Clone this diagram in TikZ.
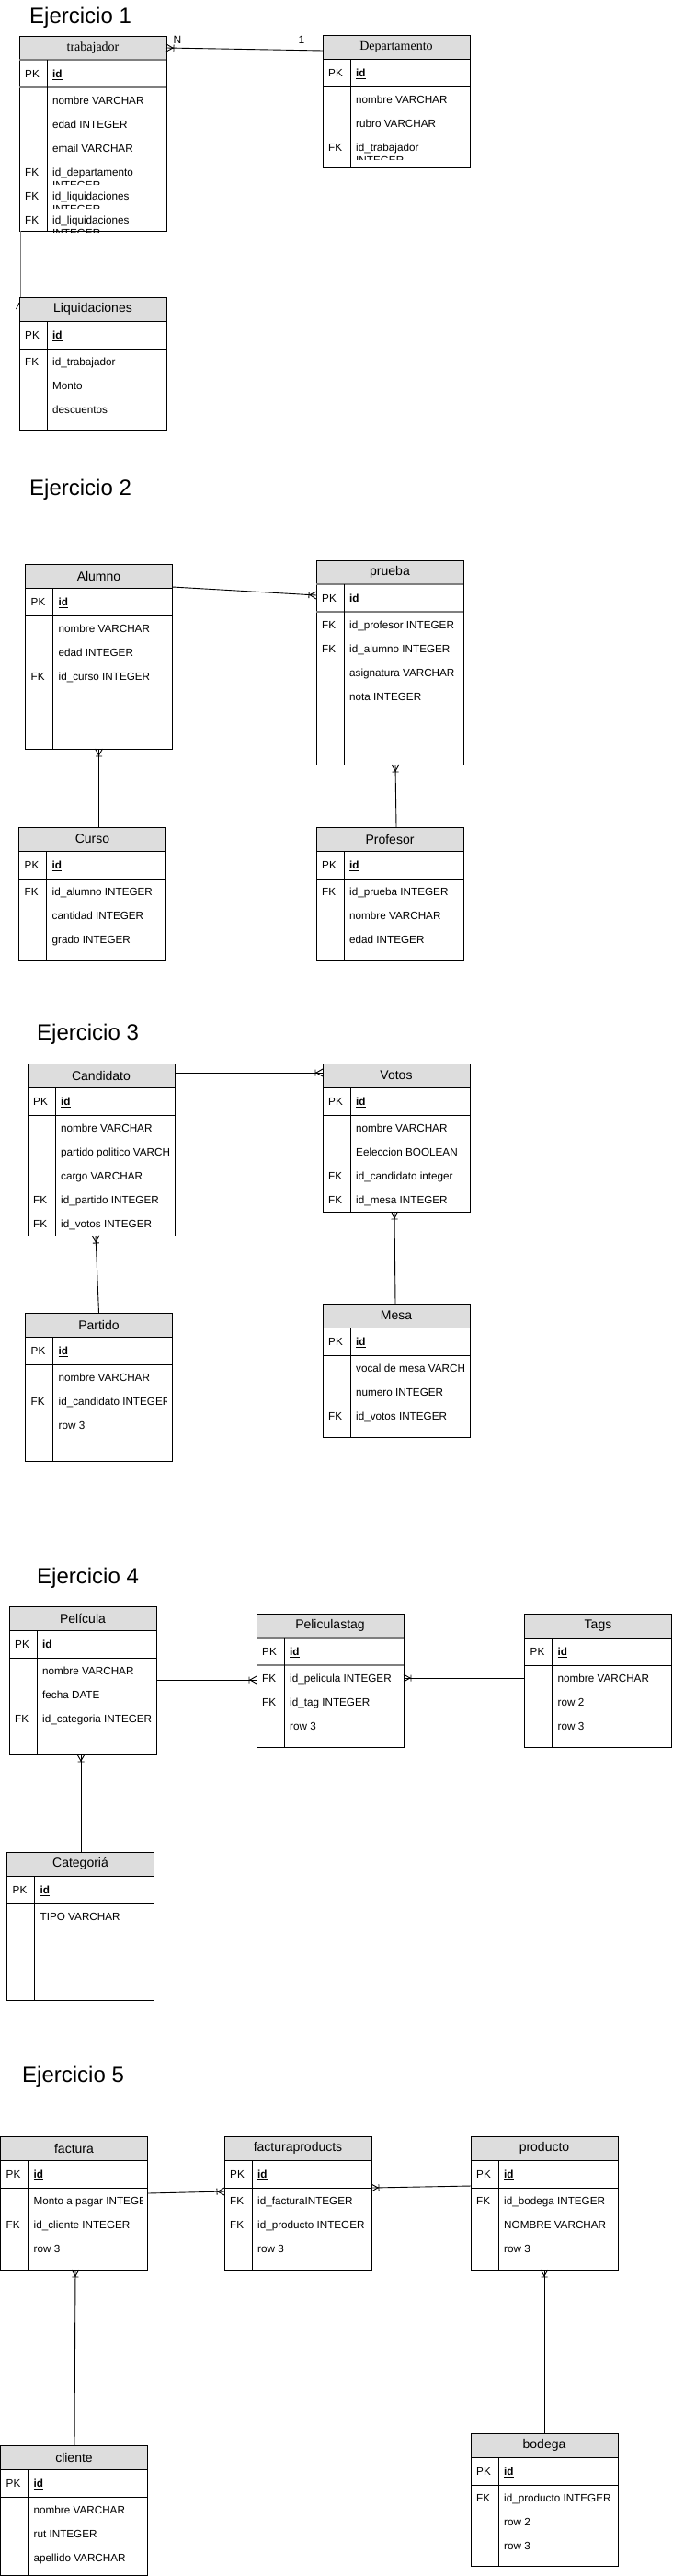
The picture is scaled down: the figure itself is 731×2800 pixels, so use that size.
\documentclass[tikz,border=0pt]{standalone}
\usepackage{fontspec}
\setmainfont{Liberation Sans}
\newfontfamily\serifhdr{Liberation Serif}
\usetikzlibrary{calc}
\definecolor{hdrgray}{HTML}{DDDDDD}
\definecolor{sepgray}{HTML}{7F7F7F}

\pgfdeclarearrow{
  name = Crow,
  setup code = {
    \pgfarrowssettipend{0pt}
    \pgfarrowssetlineend{0pt}
    \pgfarrowssetbackend{-8pt}
    \pgfarrowssetvisualbackend{-8pt}
    \pgfarrowshullpoint{0pt}{4pt}
    \pgfarrowshullpoint{0pt}{-4pt}
    \pgfarrowshullpoint{-8pt}{4pt}
    \pgfarrowshullpoint{-8pt}{-4pt}
  },
  drawing code = {
    \pgfsetdash{}{0pt}
    \pgfpathmoveto{\pgfqpoint{0pt}{4pt}}
    \pgfpathlineto{\pgfqpoint{-7pt}{0pt}}
    \pgfpathlineto{\pgfqpoint{0pt}{-4pt}}
    \pgfpathmoveto{\pgfqpoint{-8pt}{3.5pt}}
    \pgfpathlineto{\pgfqpoint{-8pt}{-3.5pt}}
    \pgfusepathqstroke
  },
}

\tikzset{
  tline/.style={draw=black, line width=0.9pt},
  tblbox/.style={tline, fill=white, rectangle, inner sep=0pt, outer sep=0pt, minimum width=160pt, anchor=north west},
  hdr/.style={tline, fill=hdrgray, rectangle, inner sep=0pt, outer sep=0pt, minimum width=160pt, minimum height=26pt, anchor=north west, font=\fontsize{14}{16}\selectfont},
  ftxt/.style={inner sep=0pt, anchor=base west, font=\fontsize{11.7}{14}\selectfont},
  ttl/.style={inner sep=0pt, anchor=base west, font=\fontsize{24}{28}\selectfont},
  card/.style={inner sep=0pt, anchor=center, font=\fontsize{12}{14}\selectfont},
  rel/.style={draw=black, line width=0.9pt, -Crow},
  sepk/.style={tline},
  gsepk/.style={draw=sepgray, line width=1.6pt},
}

% [separator style] name, left, top, bottom, title
\newcommand\ertab[6][sepk]{%
  \node[tblbox, minimum height={#5-#4}] (#2) at (#3,#4) {};
  \node[hdr] (#2-h) at (#2.north west) {#6};
  \draw[#1] (#2-h.south west) -- (#2-h.south east);
  \draw[#1] ($(#2.north west)+(0,56)$) -- ($(#2.north east)+(0,56)$);
  \draw[tline] ($(#2.north west)+(30,26)$) -- ($(#2.south west)+(30,0)$);
  \node[ftxt] (#2-pk) at ($(#2.north west)+(6,45.2)$) {PK};
  \node[ftxt] (#2-id) at ($(#2.north west)+(36,45.2)$) {\underline{\textbf{id}}};
}
% name, index, key, text
\newcommand\errow[4]{%
  \node[ftxt] (#1-k#2) at ($(#1.north west)+(6,{74.2+26*#2})$) {#3};
  \begin{scope}
    \clip ($(#1.north west)+(31,{57+26*#2})$) rectangle ($(#1.north east)+(-6,{83+26*#2})$);
    \node[ftxt] (#1-r#2) at ($(#1.north west)+(36,{74.2+26*#2})$) {#4};
  \end{scope}
}
% name, index, key, line1, line2 (second line clipped by the row)
\newcommand\errowii[5]{%
  \node[ftxt] (#1-k#2) at ($(#1.north west)+(6,{74.2+26*#2})$) {#3};
  \begin{scope}
    \clip ($(#1.north west)+(31,{57+26*#2})$) rectangle ($(#1.north east)+(-6,{83+26*#2})$);
    \node[ftxt] (#1-r#2) at ($(#1.north west)+(36,{74.2+26*#2})$) {#4};
    \node[ftxt] (#1-s#2) at ($(#1.north west)+(36,{88.2+26*#2})$) {#5};
  \end{scope}
}

\begin{document}
\begin{tikzpicture}[x=1pt,y=-1pt]
\fill[white] (0,0) rectangle (731,2800);
\useasboundingbox (0,0) rectangle (731,2800);

% ---------- Ejercicio 1 ----------
\node[ttl] (t1) at (32,25) {Ejercicio 1};
\ertab[gsepk]{trab}{21}{39}{251}{\serifhdr trabajador}
\errow{trab}{0}{}{nombre VARCHAR}
\errow{trab}{1}{}{edad INTEGER}
\errow{trab}{2}{}{email VARCHAR}
\errowii{trab}{3}{FK}{id\_departamento}{INTEGER}
\errowii{trab}{4}{FK}{id\_liquidaciones}{INTEGER}
\errowii{trab}{5}{FK}{id\_liquidaciones}{INTEGER}

\ertab{dep}{351}{38}{182}{\serifhdr Departamento}
\errow{dep}{0}{}{nombre VARCHAR}
\errow{dep}{1}{}{rubro VARCHAR}
\errowii{dep}{2}{FK}{id\_trabajador}{INTEGER}

\ertab{liq}{21}{323}{467}{Liquidaciones}
\errow{liq}{0}{FK}{id\_trabajador}
\errow{liq}{1}{}{Monto}
\errow{liq}{2}{}{descuentos}

\draw[rel] ($(dep.north west)+(0,17)$) -- ($(trab.north east)+(0,13)$);
\node[card] (lblN) at (193,43) {N};
\node[card] (lbl1) at (328,43) {1};
\draw[draw=sepgray, line width=0.9pt] ($(trab.south west)+(1.3,0)$) -- ($(liq.north west)+(1.3,0)$);
\draw[line width=0.7pt] ($(liq.north west)+(0,6)$) -- ($(liq.north west)+(-3.5,13)$);

% ---------- Ejercicio 2 ----------
\node[ttl] (t2) at (32,538) {Ejercicio 2};
\ertab{alumno}{27.5}{613}{814}{Alumno}
\errow{alumno}{0}{}{nombre VARCHAR}
\errow{alumno}{1}{}{edad INTEGER}
\errow{alumno}{2}{FK}{id\_curso INTEGER}

\ertab[gsepk]{prueba}{344}{609}{831}{prueba}
\errow{prueba}{0}{FK}{id\_profesor INTEGER}
\errow{prueba}{1}{FK}{id\_alumno INTEGER}
\errow{prueba}{2}{}{asignatura VARCHAR}
\errow{prueba}{3}{}{nota INTEGER}

\ertab{curso}{20.5}{899}{1044}{Curso}
\errow{curso}{0}{FK}{id\_alumno INTEGER}
\errow{curso}{1}{}{cantidad INTEGER}
\errow{curso}{2}{}{grado INTEGER}

\ertab{profesor}{344}{899}{1044}{Profesor}
\errow{profesor}{0}{FK}{id\_prueba INTEGER}
\errow{profesor}{1}{}{nombre VARCHAR}
\errow{profesor}{2}{}{edad INTEGER}

\draw[rel] ($(alumno.north east)+(0,25)$) -- ($(prueba.north west)+(0,38)$);
\draw[rel] (alumno.south |- curso.north) -- (alumno.south);
\draw[rel] ($(profesor.north)+(7,0)$) -- ($(prueba.south)+(6,0)$);

% ---------- Ejercicio 3 ----------
\node[ttl] (t3) at (40,1130) {Ejercicio 3};
\ertab{cand}{30}{1156}{1343}{Candidato}
\errow{cand}{0}{}{nombre VARCHAR}
\errow{cand}{1}{}{partido politico VARCHAR}
\errow{cand}{2}{}{cargo VARCHAR}
\errow{cand}{3}{FK}{id\_partido INTEGER}
\errow{cand}{4}{FK}{id\_votos INTEGER}

\ertab{votos}{351}{1156}{1317}{Votos}
\errow{votos}{0}{}{nombre VARCHAR}
\errow{votos}{1}{}{Eeleccion BOOLEAN}
\errow{votos}{2}{FK}{id\_candidato integer}
\errow{votos}{3}{FK}{id\_mesa INTEGER}

\ertab{partido}{27.5}{1427}{1588}{Partido}
\errow{partido}{0}{}{nombre VARCHAR}
\errow{partido}{1}{FK}{id\_candidato INTEGER}
\errow{partido}{2}{}{row 3}

\ertab{mesa}{351}{1417}{1562}{Mesa}
\errow{mesa}{0}{}{vocal de mesa VARCHAR}
\errow{mesa}{1}{}{numero INTEGER}
\errow{mesa}{2}{FK}{id\_votos INTEGER}

\draw[rel] ($(cand.north east)+(0,10)$) -- ($(votos.north west)+(0,10)$);
\draw[rel] (partido.north) -- ($(cand.south)+(-6,0)$);
\draw[rel] ($(mesa.north)+(-1,0)$) -- ($(votos.south)+(-2,0)$);

% ---------- Ejercicio 4 ----------
\node[ttl] (t4) at (40,1721) {Ejercicio 4};
\ertab{pel}{10}{1746}{1907}{Película}
\errow{pel}{0}{}{nombre VARCHAR}
\errow{pel}{1}{}{fecha DATE}
\errow{pel}{2}{FK}{id\_categoria INTEGER}

\ertab[gsepk]{ptag}{279}{1754}{1899}{Peliculastag}
\errow{ptag}{0}{FK}{id\_pelicula INTEGER}
\errow{ptag}{1}{FK}{id\_tag INTEGER}
\errow{ptag}{2}{}{row 3}

\ertab{tags}{570.5}{1754}{1899}{Tags}
\errow{tags}{0}{}{nombre VARCHAR}
\errow{tags}{1}{}{row 2}
\errow{tags}{2}{}{row 3}

\ertab{cat}{7.5}{2013}{2174}{Categoriá}
\errow{cat}{0}{}{TIPO VARCHAR}

\draw[rel] ($(pel.north east)+(0,80)$) -- ($(ptag.north west)+(0,72)$);
\draw[rel] ($(tags.north west)+(0,70)$) -- ($(ptag.north east)+(0,70)$);
\draw[rel] ($(cat.north)+(0.5,0)$) -- ($(pel.south)+(-2,0)$);

% ---------- Ejercicio 5 ----------
\node[ttl] (t5) at (24,2263) {Ejercicio 5};
\ertab{factura}{0.5}{2322}{2467}{factura}
\errow{factura}{0}{}{Monto a pagar INTEGER}
\errow{factura}{1}{FK}{id\_cliente INTEGER}
\errow{factura}{2}{}{row 3}

\ertab{fprod}{244}{2322}{2467}{facturaproducts}
\errow{fprod}{0}{FK}{id\_facturaINTEGER}
\errow{fprod}{1}{FK}{id\_producto INTEGER}
\errow{fprod}{2}{}{row 3}

\ertab{producto}{512}{2322}{2467}{producto}
\errow{producto}{0}{FK}{id\_bodega INTEGER}
\errow{producto}{1}{}{NOMBRE VARCHAR}
\errow{producto}{2}{}{row 3}

\ertab{cliente}{0.5}{2658}{2799.5}{cliente}
\errow{cliente}{0}{}{nombre VARCHAR}
\errow{cliente}{1}{}{rut INTEGER}
\errow{cliente}{2}{}{apellido VARCHAR}

\ertab{bodega}{512}{2645}{2789}{bodega}
\errow{bodega}{0}{FK}{id\_producto INTEGER}
\errow{bodega}{1}{}{row 2}
\errow{bodega}{2}{}{row 3}

\draw[rel] ($(factura.north east)+(0,62)$) -- ($(fprod.north west)+(0,60)$);
\draw[rel] ($(producto.north west)+(0,54)$) -- ($(fprod.north east)+(0,56)$);
\draw[rel] ($(cliente.north)+(0.5,0)$) -- ($(factura.south)+(1.5,0)$);
\draw[rel] (bodega.north) -- (producto.south);
\end{tikzpicture}
\end{document}
